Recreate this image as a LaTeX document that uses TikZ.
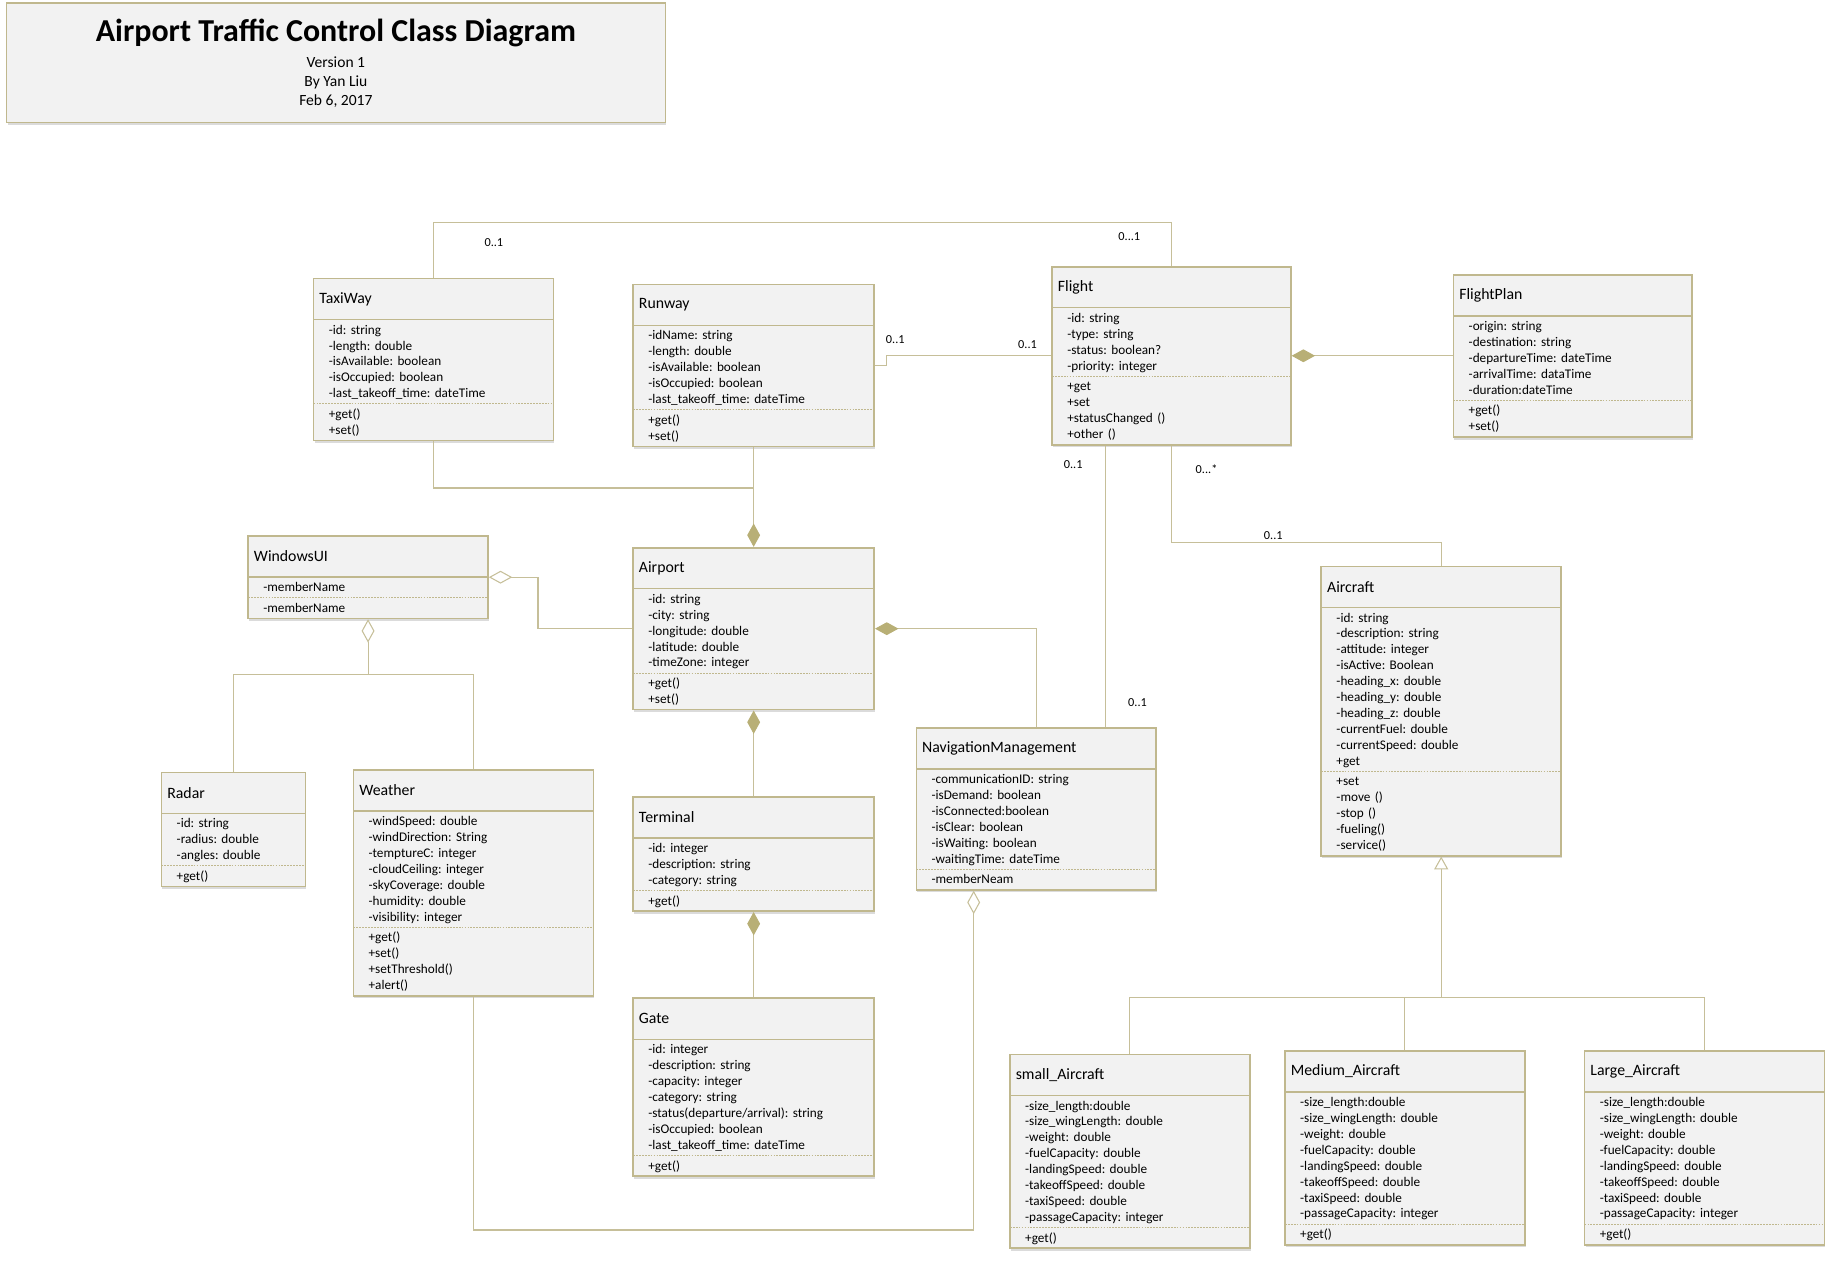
\documentclass[tikz,border=0pt]{standalone}
\usepackage{fontspec}
\setmainfont{Carlito}
\frenchspacing
\usetikzlibrary{arrows.meta,positioning,fit,calc,backgrounds,shadows}
\definecolor{umlLine}   {RGB}{198,191,153}
\definecolor{umlBorder} {RGB}{192,184,142}
\definecolor{umlDiamond}{RGB}{184,175,118}
\definecolor{umlFill}   {RGB}{242,242,242}
\newcommand\umlheadfont{\fontsize{13.5}{16}\selectfont}
\newcommand\umlbodyfont{\fontsize{11.3}{13.6}\selectfont}
\newcommand\umlmultfont{\fontsize{10.5}{12}\selectfont}
% class box: id, top-left corner, width, name, attributes, operations
\newcommand\umlclass[6]{%
  \pgfmathsetmacro\umlHeadW{#3-10}%
  \pgfmathsetmacro\umlBodyW{#3-26}%
  \node[umlhead,text width=\umlHeadW pt,anchor=north west] (#1-head) at #2 {#4};
  \node[umlbody,text width=\umlBodyW pt,anchor=north west] (#1-attr) at (#1-head.south west) {#5};
  \node[umlbody,text width=\umlBodyW pt,anchor=north west] (#1-oper) at (#1-attr.south west) {#6};
  \begin{scope}[on background layer]
    \node[umlframe,fit=(#1-head)(#1-oper)] (#1) {};
  \end{scope}
  \draw[umlsep]  (#1-head.south west) -- (#1-head.south east);
  \draw[umldots] (#1-attr.south west) -- (#1-attr.south east);
}

\begin{document}
\begin{tikzpicture}[
  x=1pt,y=1pt,
  umlhead/.style={font=\umlheadfont,inner xsep=5pt,inner ysep=0pt,outer sep=0pt,
                  minimum height=35pt,align=left},
  umlbody/.style={font=\umlbodyfont,inner xsep=13pt,inner ysep=1pt,outer sep=0pt,
                  align=left,
                  execute at begin node={\rule{0pt}{11.5pt}},
                  execute at end node={\rule[-4.2pt]{0pt}{4.2pt}}},
  umlframe/.style={draw=umlBorder,line width=1.4pt,fill=umlFill,inner sep=0pt,
                   drop shadow={shadow xshift=0.8pt,shadow yshift=-2.2pt,fill=black!14,opacity=1}},
  umlsep/.style={draw=umlBorder,line width=1.2pt},
  umldots/.style={draw=umlBorder,line width=0.8pt,dash pattern=on 1.5pt off 1pt},
  titlebox/.style={umlframe,minimum width=563pt,minimum height=102pt,anchor=north west},
  conn/.style={draw=umlLine,line width=0.9pt},
  mult/.style={font=\umlmultfont,inner sep=0pt},
  compo/.tip={Diamond[length=20pt,width=11pt,color=umlDiamond]},
  aggr/.tip={Diamond[length=20pt,width=11pt,fill=white]},
  gener/.tip={Triangle[length=11pt,width=12pt,fill=white]}
]
\useasboundingbox (0,0) rectangle (1568,-1080);

% Title block
\node[titlebox] (title) at (5,-2) {};
\node[font=\fontsize{27.3}{30}\selectfont\bfseries] (title-main) at (287,-28) {Airport Traffic Control Class Diagram};
\node[font=\fontsize{13.3}{16}\selectfont] (title-ver)  at (287,-53) {Version 1};
\node[font=\fontsize{13.3}{16}\selectfont] (title-by)   at (287,-70) {By Yan Liu};
\node[font=\fontsize{13.3}{16}\selectfont] (title-date) at (287,-86) {Feb 6, 2017};

% Classes
\umlclass{taxiway}{(268,-238)}{205}{TaxiWay}
  {-id: string\\-length: double\\-isAvailable: boolean\\-isOccupied: boolean\\-last\_takeoff\_time: dateTime}
  {+get()\\+set()}
\umlclass{runway}{(541,-243)}{206}{Runway}
  {-idName: string\\-length: double\\-isAvailable: boolean\\-isOccupied: boolean\\-last\_takeoff\_time: dateTime}
  {+get()\\+set()}
\umlclass{flight}{(899,-228)}{204}{Flight}
  {-id: string\\-type: string\\-status: boolean?\\-priority: integer}
  {+get\\+set\\+statusChanged ()\\+other ()}
\umlclass{flightplan}{(1242,-235)}{204}{FlightPlan}
  {-origin: string\\-destination: string\\-departureTime: dateTime\\-arrivalTime: dataTime\\-duration:dateTime}
  {+get()\\+set()}
\umlclass{windowsui}{(212,-458)}{205}{WindowsUI}
  {-memberName}
  {-memberName}
\umlclass{airport}{(541,-468)}{206}{Airport}
  {-id: string\\-city: string\\-longitude: double\\-latitude: double\\-timeZone: integer}
  {+get()\\+set()}
\umlclass{radar}{(138,-660)}{123}{Radar}
  {-id: string\\-radius: double\\-angles: double}
  {+get()}
\umlclass{weather}{(302,-658)}{205}{Weather}
  {-windSpeed: double\\-windDirection: String\\-temptureC: integer\\-cloudCeiling: integer\\-skyCoverage: double\\-humidity: double\\-visibility: integer}
  {+get()\\+set()\\+setThreshold()\\+alert()}
\umlclass{terminal}{(541,-681)}{206}{Terminal}
  {-id: integer\\-description: string\\-category: string}
  {+get()}
\umlclass{gate}{(541,-853)}{206}{Gate}
  {-id: integer\\-description: string\\-capacity: integer\\-category: string\\-status(departure/arrival): string\\-isOccupied: boolean\\-last\_takeoff\_time: dateTime}
  {+get()}
\umlclass{navmgmt}{(783,-622)}{205}{NavigationManagement}
  {-communicationID: string\\-isDemand: boolean\\-isConnected:boolean\\-isClear: boolean\\-isWaiting: boolean\\-waitingTime: dateTime}
  {-memberNeam}
\umlclass{aircraft}{(1129,-484)}{205}{Aircraft}
  {-id: string\\-description: string\\-attitude: integer\\-isActive: Boolean\\-heading\_x: double\\-heading\_y: double\\-heading\_z: double\\-currentFuel: double\\-currentSpeed: double\\+get}
  {+set\\-move ()\\-stop ()\\-fueling()\\-service()}
\umlclass{smallac}{(863,-901)}{205}{small\_Aircraft}
  {-size\_length:double\\-size\_wingLength: double\\-weight: double\\-fuelCapacity: double\\-landingSpeed: double\\-takeoffSpeed: double\\-taxiSpeed: double\\-passageCapacity: integer}
  {+get()}
\umlclass{mediumac}{(1098,-898)}{205}{Medium\_Aircraft}
  {-size\_length:double\\-size\_wingLength: double\\-weight: double\\-fuelCapacity: double\\-landingSpeed: double\\-takeoffSpeed: double\\-taxiSpeed: double\\-passageCapacity: integer}
  {+get()}
\umlclass{largeac}{(1354,-898)}{205}{Large\_Aircraft}
  {-size\_length:double\\-size\_wingLength: double\\-weight: double\\-fuelCapacity: double\\-landingSpeed: double\\-takeoffSpeed: double\\-taxiSpeed: double\\-passageCapacity: integer}
  {+get()}

% Associations
\draw[conn] (taxiway.north) -- ++(0,47) -| (flight.north);
\draw[conn] (runway.east) -- ++(10,0) |- (flight.west);
\coordinate (f-nav) at ($(flight.south)+(-56,0)$);
\draw[conn] (f-nav) -- (f-nav |- navmgmt.north);
\draw[conn] (flight.south) -- ++(0,-83) -| (aircraft.north);

% Compositions
\draw[conn,compo-] (flight.east) -- (flight.east -| flightplan.west);
\coordinate (j-ap) at (airport.north |- 0,-417);
\draw[conn] (taxiway.south) |- (j-ap) -- (runway.south);
\draw[conn,-compo] (j-ap) -- (airport.north);
\draw[conn,compo-] (airport.east) -| (navmgmt.north);
\draw[conn,compo-] (airport.south) -- (terminal.north);
\draw[conn,compo-] (terminal.south) -- (gate.north);

% Aggregations
\draw[conn,aggr-] (windowsui.east) -- ++(42,0) |- (airport.west);
\draw[conn,aggr-] (windowsui.south) -- ++(0,-47) coordinate (j-ui);
\draw[conn] (radar.north) |- (j-ui) -| (weather.north);
\coordinate (nav-w) at ($(navmgmt.south)+(-53.5,0)$);
\coordinate (j-wn) at (nav-w |- 0,-1051);
\draw[conn,-aggr] (weather.south) |- (j-wn) -- (nav-w);

% Generalisation
\coordinate (j-gen) at (aircraft.south |- 0,-852);
\draw[conn,-gener] (j-gen) -- (aircraft.south);
\draw[conn] (smallac.north) |- (largeac.north |- j-gen) -- (largeac.north);
\draw[conn] (mediumac.north) -- (mediumac.north |- j-gen);

% Multiplicities
\node[mult] (m-tw)   at (422,-207)  {0..1};
\node[mult] (m-ftw)  at (965,-202)  {0...1};
\node[mult] (m-rw)   at (765,-290)  {0..1};
\node[mult] (m-frw)  at (878,-294)  {0..1};
\node[mult] (m-fnav) at (917,-397)  {0..1};
\node[mult] (m-fac)  at (1031,-401) {0...*};
\node[mult] (m-ac)   at (1088,-458) {0..1};
\node[mult] (m-nav)  at (972,-600)  {0..1};
\end{tikzpicture}
\end{document}
